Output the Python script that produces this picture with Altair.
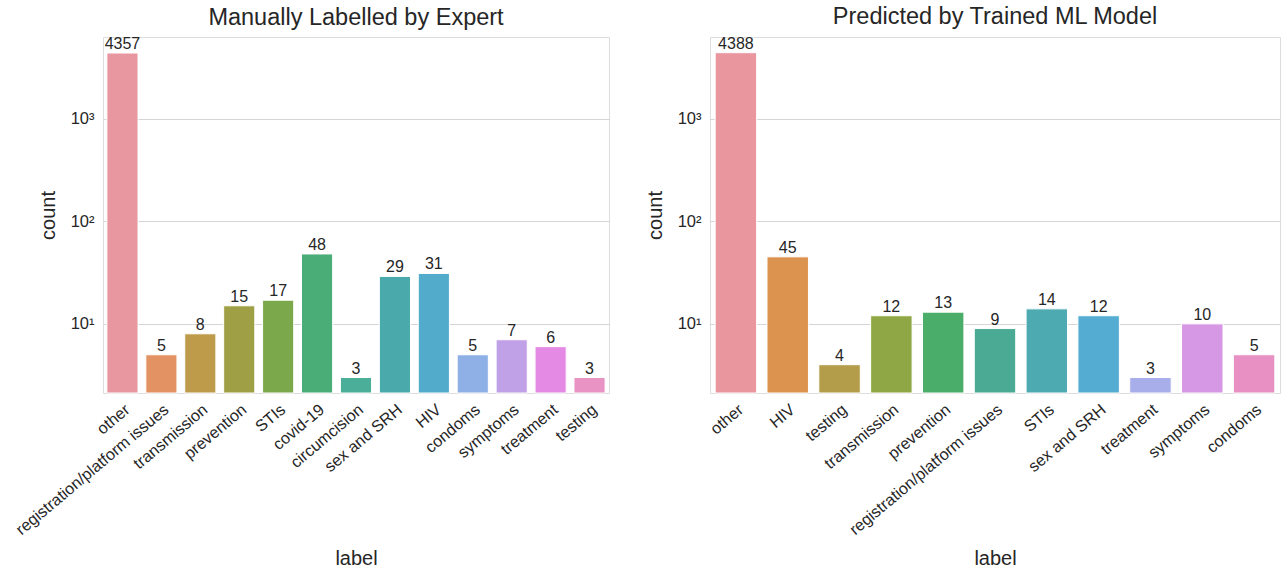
import altair as alt
import pandas as pd

expert_labels = ["other", "registration/platform issues", "transmission", "prevention",
                 "STIs", "covid-19", "circumcision", "sex and SRH", "HIV", "condoms",
                 "symptoms", "treatment", "testing"]
expert_counts = [4357, 5, 8, 15, 17, 48, 3, 29, 31, 5, 7, 6, 3]

model_labels = ["other", "HIV", "testing", "transmission", "prevention",
                "registration/platform issues", "STIs", "sex and SRH", "treatment",
                "symptoms", "condoms"]
model_counts = [4388, 45, 4, 12, 13, 9, 14, 12, 3, 10, 5]

expert_palette = ["#e8969f", "#e39363", "#be9b4b", "#9f9f45", "#7aa84a", "#4aad78",
                  "#4aae98", "#4aaaab", "#53abcb", "#8fb0e6", "#c0a0e6", "#e48ae4", "#e893c3"]
model_palette = ["#e9969f", "#dc9350", "#b49d4a", "#8fa845", "#4aae6a", "#4aaa94",
                 "#4eaab1", "#54acd3", "#a8aeea", "#d697e5", "#e88fc3"]

Y_MIN, Y_MAX = 2.12, 6240
FONT = "Liberation Sans"
TXT = "#262626"


def panel(labels, counts, palette, title, width):
    df = pd.DataFrame({"label": labels, "count": counts})
    x = alt.X("label:N", sort=labels,
              scale=alt.Scale(paddingInner=0.2, paddingOuter=0.1),
              axis=alt.Axis(title="label", labelAngle=320, labelAlign="right",
                            labelBaseline="top", ticks=False, domain=False, grid=False,
                            labelFontSize=16.2, titleFontSize=20, labelPadding=8,
                            titlePadding=11, labelFont=FONT, titleFont=FONT,
                            labelLimit=0, labelOverlap=False,
                            labelColor=TXT, titleColor=TXT, titleFontWeight="normal"))
    y = alt.Y("count:Q",
              scale=alt.Scale(type="log", domain=[Y_MIN, Y_MAX], nice=False),
              axis=alt.Axis(title="count", values=[10, 100, 1000],
                            labelExpr="datum.value == 1000 ? '10³' : datum.value == 100 ? '10²' : '10¹'",
                            grid=True, gridColor="#d5d5d5", gridWidth=1.2,
                            ticks=False, domain=False, labelFontSize=16.5,
                            titleFontSize=20, labelPadding=9, titlePadding=12,
                            labelFont=FONT, titleFont=FONT, labelColor=TXT,
                            titleColor=TXT, titleFontWeight="normal"))
    bars = alt.Chart(df).mark_bar(stroke="white", strokeWidth=1).encode(
        x=x, y=y, y2=alt.datum(Y_MIN),
        color=alt.Color("label:N", scale=alt.Scale(domain=labels, range=palette),
                        legend=None))
    text = alt.Chart(df).mark_text(baseline="bottom", dy=-1, fontSize=16, font=FONT,
                                   color=TXT).encode(
        x=alt.X("label:N", sort=labels), y=alt.Y("count:Q"), text="count:Q")
    return alt.layer(bars, text).properties(
        width=width, height=356,
        title=alt.TitleParams(title, fontSize=23.5, font=FONT, color=TXT,
                              fontWeight="normal", offset=7))


left = panel(expert_labels, expert_counts, expert_palette, "Manually Labelled by Expert", 506)
right = panel(model_labels, model_counts, model_palette, "Predicted by Trained ML Model", 570)

chart = alt.hconcat(left, right, spacing=34).resolve_scale(color="independent").properties(
    padding={"left": 12, "top": 4, "right": 2, "bottom": 5}
).configure_view(stroke="#cccccc", strokeWidth=1.3).configure(background="white")

chart.save("out.html", embed_options={"renderer": "svg", "actions": False})
